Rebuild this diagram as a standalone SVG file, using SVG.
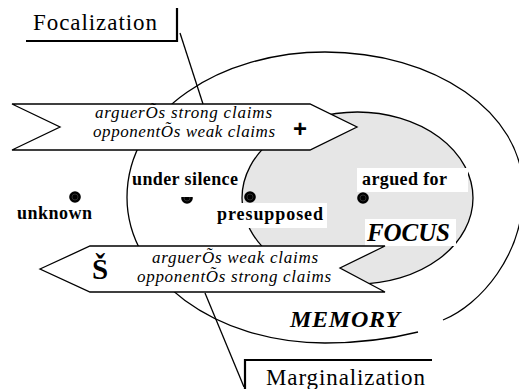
<svg xmlns="http://www.w3.org/2000/svg" width="519" height="389" viewBox="0 0 519 389">
<style>
.ln{fill:none;stroke:#000;stroke-width:1.3}
.box{fill:none;stroke:#000;stroke-width:2.2}
.arrow{fill:#fff;stroke:#000;stroke-width:1.3;stroke-linejoin:miter}
.lab{font-weight:bold;font-size:18px;fill:#000}
.big{font-weight:bold;font-style:italic;fill:#000}
.it{font-style:italic;font-size:17px;fill:#000}
.ttl{font-size:23px;fill:#000}
.bg{fill:#fff;stroke:none}
</style>
<defs>
<g id="dot"><circle r="5.8" fill="#000"/><circle r="3" fill="none" stroke="#3a3a3a" stroke-width="0.8"/></g>
</defs>
<g id="memory">
<path class="ln" d="M418,332 C390,339 356,343 325,343 C215.6,343 127,277.9 127,197.5 C127,110 222,52 325,52 C434.4,52 523,112 523,190 C524,255 480,305 443,320"/>
</g>
<g id="focus">
<ellipse cx="357.5" cy="198" rx="115.5" ry="86" fill="#e6e6e6" stroke="#000" stroke-width="1.3"/>
</g>
<g id="dots">
<use href="#dot" x="75" y="197"/>
<use href="#dot" x="187" y="198"/>
<use href="#dot" x="250" y="197"/>
<use href="#dot" x="363" y="198"/>
</g>
<g id="label-bgs">
<rect class="bg" x="132" y="168" width="108" height="29"/>
<rect class="bg" x="357" y="168" width="111" height="24"/>
<rect class="bg" x="215" y="203" width="112" height="25"/>
<rect class="bg" x="365" y="219" width="91" height="27"/>
</g>
<g id="labels" font-family="'Liberation Serif', serif">
<text class="lab" x="132" y="185" textLength="106" lengthAdjust="spacing">under silence</text>
<text class="lab" x="362" y="185" textLength="85" lengthAdjust="spacing">argued for</text>
<text class="lab" x="17" y="219" textLength="75" lengthAdjust="spacing">unknown</text>
<text class="lab" x="217" y="220" textLength="106" lengthAdjust="spacing">presupposed</text>
<text class="big" x="367" y="241" font-size="25" textLength="83" lengthAdjust="spacing">FOCUS</text>
<text class="big" x="290" y="327" font-size="24" textLength="110" lengthAdjust="spacing">MEMORY</text>
</g>
<g id="focalization-arrow" font-family="'Liberation Serif', serif">
<polygon class="arrow" points="12,104 310,104 357,127 310,150 12,150 60,127"/>
<text class="it" x="95" y="118" textLength="177" lengthAdjust="spacing">arguerÕs strong claims</text>
<text class="it" x="93" y="137" textLength="182" lengthAdjust="spacing">opponentÕs weak claims</text>
<text x="300" y="137" text-anchor="middle" font-family="'Liberation Sans', sans-serif" font-weight="bold" font-size="24">+</text>
</g>
<g id="marginalization-arrow" font-family="'Liberation Serif', serif">
<polygon class="arrow" points="40,269 90,246 385,246 340,268 385,292 90,292"/>
<text class="it" x="152" y="263" textLength="166" lengthAdjust="spacing">arguerÕs weak claims</text>
<text class="it" x="137" y="282" textLength="194" lengthAdjust="spacing">opponentÕs strong claims</text>
<text x="100" y="279" text-anchor="middle" font-weight="bold" font-size="29">Š</text>
</g>
<g id="connectors">
<line class="ln" x1="180" y1="33" x2="203" y2="104"/>
<line class="ln" x1="205" y1="293" x2="244" y2="387"/>
</g>
<g id="focalization-box" font-family="'Liberation Serif', serif">
<polyline class="box" points="26,41 177,41 177,8"/>
<text class="ttl" x="33" y="30" textLength="124" lengthAdjust="spacing">Focalization</text>
</g>
<g id="marginalization-box" font-family="'Liberation Serif', serif">
<polyline class="box" points="432,360 245,360 245,389"/>
<text class="ttl" x="266" y="385" textLength="159" lengthAdjust="spacing">Marginalization</text>
</g>
</svg>
